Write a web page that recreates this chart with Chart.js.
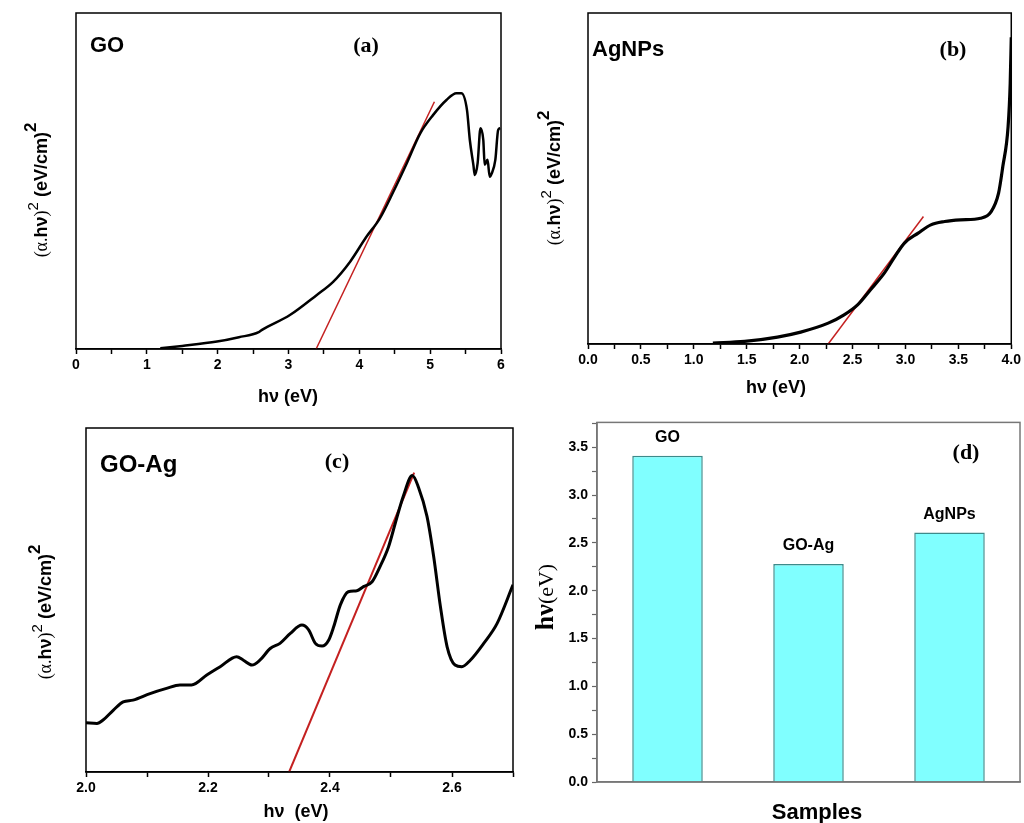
<!DOCTYPE html>
<html>
<head>
<meta charset="utf-8">
<script src="https://cdn.jsdelivr.net/npm/chart.js@4.4.1/dist/chart.umd.min.js"></script>
<style>
  body { margin: 0; background: #fff; width: 1024px; height: 823px; position: relative; overflow: hidden; }
  .pane { position: absolute; }
</style>
</head>
<body>
<div class="pane" style="left:0;top:0;width:512px;height:410px"><canvas id="cA"></canvas></div>
<div class="pane" style="left:512px;top:0;width:512px;height:410px"><canvas id="cB"></canvas></div>
<div class="pane" style="left:0;top:410px;width:520px;height:413px"><canvas id="cC"></canvas></div>
<div class="pane" style="left:520px;top:410px;width:504px;height:413px"><canvas id="cD"></canvas></div>
<script>
// (a) GO - Tauc plot
const goX = [1.19, 1.5, 1.99, 2.3, 2.58, 2.62, 3.02, 3.40, 3.63, 3.87, 4.10, 4.29, 4.48, 4.67, 4.86, 5.04, 5.23, 5.37, 5.44, 5.52, 5.56, 5.61, 5.63, 5.67, 5.71, 5.75, 5.77, 5.81, 5.84, 5.87, 5.92, 5.96, 5.99];
const goY = [0.2, 0.9, 2.2, 3.5, 5.0, 5.6, 10.1, 16.1, 20, 26, 33.4, 38.9, 46.8, 55.3, 64.2, 69.6, 74.1, 76.1, 76.1, 71.1, 62.2, 54.8, 51.8, 55.3, 65.7, 62.2, 54.8, 56.3, 51.3, 52.3, 56.3, 65.2, 65.7];
const goFitX = [3.39, 5.06];
const goFitY = [0, 73.6];

// (b) AgNPs
const agX = [1.18, 1.48, 1.79, 2.01, 2.27, 2.42, 2.55, 2.67, 2.80, 2.90, 2.99, 3.12, 3.24, 3.37, 3.52, 3.71, 3.81, 3.88, 3.92, 3.97, 3.99, 4.0];
const agY = [0.3, 0.8, 2.1, 3.6, 6.3, 8.8, 11.9, 16.4, 21.4, 26.4, 30.5, 33.5, 36, 37, 37.5, 38, 40, 45.6, 53.6, 65.7, 78.8, 92.7];
const agFitX = [2.27, 3.17];
const agFitY = [0, 38.5];

// (c) GO-Ag
const goagX = [2.0, 2.018, 2.028, 2.045, 2.061, 2.077, 2.105, 2.132, 2.154, 2.173, 2.198, 2.22, 2.247, 2.258, 2.272, 2.285, 2.302, 2.318, 2.335, 2.354, 2.365, 2.376, 2.387, 2.398, 2.406, 2.417, 2.43, 2.444, 2.455, 2.469, 2.482, 2.496, 2.507, 2.52, 2.535, 2.545, 2.559, 2.57, 2.581, 2.592, 2.605, 2.616, 2.63, 2.652, 2.674, 2.7];
const goagY = [14.3, 14.1, 15.1, 18, 20.4, 20.9, 22.8, 24.3, 25.3, 25.3, 28.2, 30.6, 33.5, 32.5, 31.1, 32.5, 35.9, 37.4, 40.3, 42.7, 41.3, 37.4, 36.6, 38.4, 42.2, 48.6, 52.4, 52.7, 53.9, 55.3, 59.7, 65.5, 72.3, 80.1, 86.2, 82.8, 74.3, 62.6, 48.1, 36.4, 31.1, 30.6, 32.5, 37.4, 43.2, 54.4];
const goagFitX = [2.333, 2.538];
const goagFitY = [0, 87];

// (d) band gaps
const samples = ['GO', 'GO-Ag', 'AgNPs'];
const gaps = [3.41, 2.28, 2.61];

const SANS = '"Liberation Sans", Arial, sans-serif';
const SERIF = '"Liberation Serif", "Times New Roman", serif';

function pts(xs, ys) { return xs.map((x, i) => ({ x: x, y: ys[i] })); }

// box round the plot area
function frame(color, w) {
  return { id: 'frame', afterDraw(c) {
    const a = c.chartArea, ctx = c.ctx;
    ctx.save(); ctx.strokeStyle = color; ctx.lineWidth = w;
    ctx.strokeRect(a.left, a.top, a.right - a.left, a.bottom - a.top);
    ctx.restore();
  } };
}

// loose text labels (panel names, axis titles)
function texts(items) {
  return { id: 'texts', afterDraw(c) {
    const ctx = c.ctx;
    ctx.save(); ctx.fillStyle = '#000'; ctx.textBaseline = 'middle';
    items.forEach(t => { ctx.font = t.font; ctx.textAlign = t.align || 'center'; ctx.fillText(t.text, t.x, t.y); });
    ctx.restore();
  } };
}

// rotated y title made of mixed font pieces
function vtitle(x, y, parts) {
  return { id: 'vtitle', afterDraw(c) {
    const ctx = c.ctx;
    ctx.save(); ctx.translate(x, y); ctx.rotate(-Math.PI / 2);
    ctx.fillStyle = '#000'; ctx.textBaseline = 'alphabetic'; ctx.textAlign = 'left';
    let total = 0;
    parts.forEach(p => { ctx.font = p.f; p.w = ctx.measureText(p.t).width; total += p.w; });
    let px = -total / 2;
    parts.forEach(p => { ctx.font = p.f; ctx.fillText(p.t, px, p.dy || 0); px += p.w; });
    ctx.restore();
  } };
}

function tauc(sz) {
  return [
    { t: '(α.', f: sz.s + 'px ' + SERIF },
    { t: 'hν', f: 'bold ' + sz.b + 'px ' + SANS },
    { t: ')', f: sz.s + 'px ' + SERIF },
    { t: '2', f: (sz.s - 3) + 'px ' + SANS, dy: -9 },
    { t: ' (eV/cm)', f: 'bold ' + sz.b + 'px ' + SANS },
    { t: '2', f: 'bold ' + (sz.b - 1) + 'px ' + SANS, dy: -11 }
  ];
}

function spectrum(id, box, xs, ys, fitX, fitY, fmt, extra) {
  return new Chart(document.getElementById(id), {
    type: 'line',
    data: { datasets: [
      { data: pts(xs, ys), borderColor: '#000', borderWidth: box.lw, pointRadius: 0, cubicInterpolationMode: 'monotone' },
      { data: pts(fitX, fitY), borderColor: '#c42020', borderWidth: box.fw, pointRadius: 0, tension: 0 }
    ] },
    options: {
      animation: false, responsive: true, maintainAspectRatio: false,
      layout: { padding: { left: 0, top: box.top, right: box.right, bottom: 0 } },
      plugins: { legend: { display: false }, tooltip: { enabled: false } },
      scales: {
        x: { type: 'linear', min: box.xr[0], max: box.xr[1],
          ticks: { stepSize: box.step, autoSkip: false, maxRotation: 0, padding: 3, color: '#000',
            font: { family: SANS, weight: 'bold', size: 14 }, callback: fmt },
          grid: { drawOnChartArea: false, tickLength: 5, tickWidth: 1.5, tickColor: '#000' },
          border: { color: '#000', width: 1.5 },
          afterFit: s => { s.height = box.xh; } },
        y: { min: 0, max: 100, ticks: { display: false }, grid: { display: false }, border: { display: false },
          afterFit: s => { s.width = box.yw; } }
      }
    },
    plugins: extra
  });
}

const half = v => Math.abs(v * 2 - Math.round(v * 2)) < 1e-6 ? v.toFixed(1) : '';

spectrum('cA', { top: 13, right: 11, xh: 61, yw: 76, xr: [0, 6], step: 0.5, lw: 2.5, fw: 1.5 },
  goX, goY, goFitX, goFitY, v => Number.isInteger(v) ? String(v) : '',
  [frame('#000', 1.5),
   texts([
     { text: 'GO', x: 90, y: 46, align: 'left', font: 'bold 22px ' + SANS },
     { text: '(a)', x: 366, y: 46, font: 'bold 22px ' + SERIF },
     { text: 'hν (eV)', x: 288, y: 397, font: 'bold 18px ' + SANS }
   ]),
   vtitle(47, 190, tauc({ s: 18, b: 18 }))]);

spectrum('cB', { top: 13, right: 10, xh: 66, yw: 76, xr: [0, 4], step: 0.25, lw: 3.2, fw: 1.5 },
  agX, agY, agFitX, agFitY, half,
  [frame('#000', 1.5),
   texts([
     { text: 'AgNPs', x: 80, y: 50, align: 'left', font: 'bold 22px ' + SANS },
     { text: '(b)', x: 441, y: 50, font: 'bold 22px ' + SERIF },
     { text: 'hν (eV)', x: 264, y: 388, font: 'bold 18px ' + SANS }
   ]),
   vtitle(48, 178, tauc({ s: 18, b: 18 }))]);

spectrum('cC', { top: 18, right: 7, xh: 51, yw: 86, xr: [2.0, 2.7], step: 0.1, lw: 3, fw: 2 },
  goagX, goagY, goagFitX, goagFitY, v => Math.round(v * 10) % 2 === 0 ? v.toFixed(1) : '',
  [frame('#000', 1.5),
   texts([
     { text: 'GO-Ag', x: 100, y: 55, align: 'left', font: 'bold 24px ' + SANS },
     { text: '(c)', x: 337, y: 52, font: 'bold 22px ' + SERIF },
     { text: 'hν  (eV)', x: 296, y: 402, font: 'bold 18px ' + SANS }
   ]),
   vtitle(51, 202, tauc({ s: 18, b: 18 }))]);

// (d) bar chart
const barLabels = { id: 'barLabels', afterDatasetsDraw(c) {
  const ctx = c.ctx;
  ctx.save(); ctx.fillStyle = '#000'; ctx.textAlign = 'center'; ctx.textBaseline = 'middle';
  ctx.font = 'bold 16px ' + SANS;
  c.getDatasetMeta(0).data.forEach((bar, i) => ctx.fillText(samples[i], bar.x, bar.y - 18));
  ctx.restore();
} };

new Chart(document.getElementById('cD'), {
  type: 'bar',
  data: { labels: samples, datasets: [{ data: gaps, backgroundColor: '#80ffff', borderColor: '#3d8a8a', borderWidth: 1.5,
    barPercentage: 0.5, categoryPercentage: 1.0 }] },
  options: {
    animation: false, responsive: true, maintainAspectRatio: false,
    layout: { padding: { left: 0, top: 7, right: 4, bottom: 0 } },
    plugins: { legend: { display: false }, tooltip: { enabled: false } },
    scales: {
      x: { ticks: { display: false }, grid: { display: false }, border: { color: '#777', width: 1.5 },
        afterFit: s => { s.height = 41; } },
      y: { min: 0, max: 3.76,
        ticks: { stepSize: 0.25, includeBounds: false, autoSkip: false, padding: 4, color: '#000',
          font: { family: SANS, weight: 'bold', size: 14 }, callback: half },
        grid: { drawOnChartArea: false, tickLength: 5, tickWidth: 1.2, tickColor: '#666' },
        border: { color: '#777', width: 1.5 },
        afterFit: s => { s.width = 77; } }
    }
  },
  plugins: [frame('#777', 1.5), barLabels,
    texts([
      { text: '(d)', x: 446, y: 43, font: 'bold 22px ' + SERIF },
      { text: 'Samples', x: 297, y: 403, font: 'bold 22px ' + SANS }
    ]),
    vtitle(33, 187, [
      { t: 'hν', f: 'bold 26px ' + SERIF },
      { t: '(eV)', f: '22px ' + SERIF }
    ])]
});
</script>
</body>
</html>
